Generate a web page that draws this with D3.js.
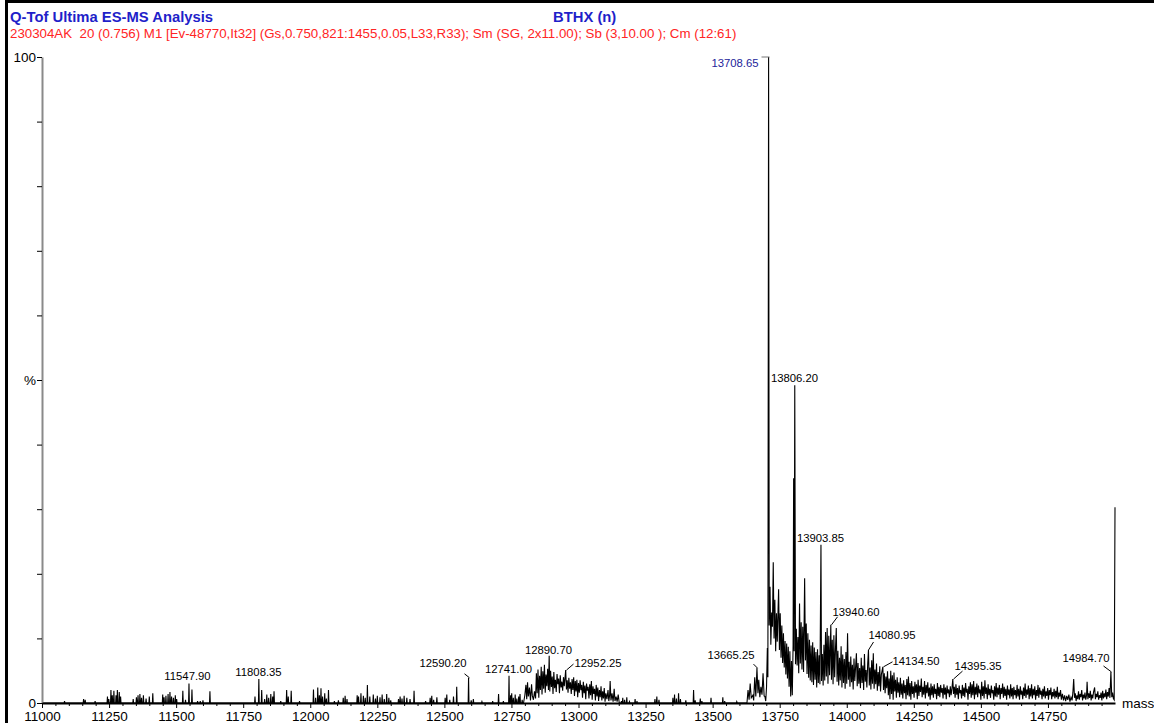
<!DOCTYPE html>
<html>
<head>
<meta charset="utf-8">
<script src="https://cdn.jsdelivr.net/npm/d3@7"></script>
<style>
  html, body { margin: 0; padding: 0; background: #fff; }
  svg { display: block; font-family: Arial, "Liberation Sans", sans-serif; }
  .pre { white-space: pre; }
</style>
</head>
<body>
<svg id="chart" width="1154" height="723"></svg>
<script>
// ---- Spectrum data (mass, relative intensity %) ----

// Isolated low-level peaks drawn as narrow sticks
const sticks = [
  [11084, 0.3], [11155, 0.6], [11161, 0.5], [11198, 0.3],
  [11244, 1.0], [11249, 0.6], [11257, 2.0], [11262, 1.2], [11268, 1.9], [11276, 1.2], [11281, 2.0], [11288, 1.7], [11293, 1.0],
  [11340, 0.6], [11352, 0.9], [11358, 1.2], [11365, 1.4], [11371, 0.8], [11378, 1.2], [11388, 0.7], [11400, 1.0], [11413, 1.5],
  [11450, 1.3], [11455, 0.9], [11462, 1.1], [11470, 1.4], [11477, 1.7], [11483, 1.0], [11490, 0.8], [11497, 1.2], [11502, 0.6],
  [11525, 1.9], [11535, 0.5], [11547.90, 3.0], [11559, 2.1], [11580, 0.3], [11590, 0.3], [11600, 0.4], [11626, 1.8],
  [11794, 1.0], [11808.35, 3.7], [11819, 2.0], [11830, 0.6], [11838, 1.3], [11845, 0.8], [11853, 1.4], [11860, 1.0], [11865, 1.8],
  [11890, 0.3], [11912, 2.0], [11918, 1.0], [11929, 1.9], [11960, 0.3],
  [12012, 2.1], [12020, 0.8], [12028, 2.4], [12034, 1.2], [12040, 2.3], [12046, 1.0], [12054, 1.5], [12060, 0.7], [12068, 2.0],
  [12090, 0.3], [12105, 0.4], [12123, 0.8], [12130, 1.1], [12137, 0.6],
  [12175, 1.2], [12180, 1.0], [12189, 1.5], [12198, 1.1], [12205, 0.8], [12213, 2.8], [12222, 1.0], [12235, 1.3], [12243, 0.7],
  [12250, 1.1], [12260, 0.9], [12268, 1.3], [12276, 0.6], [12285, 1.4], [12293, 0.8], [12300, 0.4],
  [12329, 0.6], [12335, 1.0], [12342, 0.7], [12350, 1.1], [12360, 0.8], [12372, 0.6], [12387, 1.9],
  [12430, 0.3], [12447, 0.8], [12453, 1.1], [12460, 0.5], [12472, 0.9],
  [12503, 0.8], [12509, 1.3], [12520, 0.5], [12534, 1.0], [12546, 2.5],
  [12590.20, 3.9], [12600, 0.4], [12608, 0.6], [12640, 0.2], [12680, 0.3], [12702, 1.4], [12720, 0.3],
  [12741.00, 4.2], [12747, 1.2], [12751, 1.5], [12757, 0.8], [12764, 1.3], [12770, 0.7], [12777, 1.0], [12782, 1.4], [12790, 0.5],
  [13160, 0.3], [13165, 0.8], [13172, 0.5], [13180, 0.9], [13190, 0.2], [13211, 0.6], [13218, 0.3],
  [13285, 0.6], [13292, 1.0], [13300, 0.5],
  [13352, 0.8], [13358, 1.3], [13365, 0.7], [13373, 1.5], [13380, 0.6],
  [13400, 0.4], [13429, 2.0], [13435, 0.4], [13454, 0.7], [13460, 0.3], [13494, 0.8], [13538, 0.9], [13545, 0.3], [13590, 0.2]
];

// Unresolved envelope around 12.9 kDa
const envelopeLow = [
  [12795, 0], [12800, 1.2], [12804, 2.8], [12807, 0.6], [12810, 3.2], [12813, 1.0], [12817, 2.4], [12821, 0.4], [12825, 2.9],
  [12828, 1.1], [12832, 0.5], [12836, 1.8], [12840, 0.7], [12843, 4.6], [12846, 1.5], [12849, 5.2], [12852, 0.8], [12855, 4.2],
  [12858, 2.0], [12861, 5.6], [12864, 1.3], [12867, 4.9], [12870, 2.2], [12873, 5.9], [12876, 1.6], [12879, 4.4], [12882, 2.6],
  [12885, 5.3], [12888, 2.0], [12890.70, 7.3], [12893, 1.8], [12896, 5.0], [12899, 2.5], [12902, 4.1], [12905, 1.4], [12908, 4.8],
  [12911, 2.3], [12914, 3.6], [12917, 1.7], [12920, 4.5], [12923, 2.9], [12926, 3.8], [12929, 1.5], [12932, 4.3], [12935, 2.4],
  [12938, 3.3], [12941, 1.9], [12944, 4.0], [12947, 2.6], [12952.25, 5.1], [12955, 2.1], [12958, 3.5], [12961, 1.6], [12964, 3.9],
  [12967, 2.2], [12970, 3.2], [12973, 1.4], [12976, 3.7], [12979, 2.0], [12982, 4.0], [12985, 1.1], [12988, 3.4], [12991, 1.8],
  [12994, 3.6], [12997, 0.9], [13000, 3.1], [13003, 1.6], [13006, 3.5], [13009, 2.0], [13012, 2.8], [13015, 0.8], [13018, 3.3],
  [13021, 1.5], [13024, 2.7], [13027, 0.6], [13030, 3.0], [13033, 1.9], [13036, 2.5], [13039, 0.7], [13042, 2.9], [13045, 1.2],
  [13048, 3.4], [13051, 0.5], [13054, 2.6], [13057, 1.4], [13060, 2.2], [13063, 0.4], [13066, 2.8], [13069, 1.0], [13072, 2.4],
  [13075, 0.3], [13078, 2.0], [13081, 0.9], [13084, 2.6], [13087, 0.4], [13090, 1.8], [13093, 0.7], [13096, 2.3], [13099, 0.2],
  [13102, 1.5], [13106, 0.6], [13110, 2.0], [13113, 0.3], [13116, 1.2], [13118, 3.4], [13121, 0.4], [13125, 1.5], [13129, 0.2],
  [13133, 2.2], [13136, 0.3], [13140, 1.0], [13144, 0.2], [13148, 1.3], [13152, 0]
];

// Main protein envelope from 13.6 kDa to the end of the scan
const envelopeMain = [
  [13628, 0], [13632, 2.0], [13636, 0.5], [13640, 3.0], [13644, 0.8], [13650, 1.2], [13653, 0.4], [13657, 4.0], [13661, 1.0],
  [13665.25, 5.4], [13669, 1.5], [13672, 3.6], [13676, 0.9], [13680, 2.5], [13684, 1.3], [13688, 4.6], [13692, 1.1], [13695, 1.0],
  [13698, 0.3], [13701, 2.5], [13704, 8.5], [13706, 4.0], [13708.65, 100], [13711, 12.0], [13714, 18.0], [13717, 9.0],
  [13720, 14.0], [13723, 11.8], [13726, 21.8], [13729, 10.0], [13732, 16.0], [13735, 8.0], [13738, 13.9], [13741, 9.5],
  [13744, 14.5], [13746, 17.6], [13749, 8.2], [13752, 13.9], [13755, 7.0], [13758, 12.0], [13761, 6.2], [13764, 10.8],
  [13767, 5.5], [13770, 9.6], [13773, 4.4], [13776, 9.2], [13779, 3.8], [13782, 8.7], [13785, 2.5], [13788, 8.0], [13791, 1.0],
  [13794, 6.5], [13797, 1.2], [13800, 9.0], [13802, 34.8], [13804, 8.0], [13806.20, 49.2], [13809, 6.0], [13812, 11.5],
  [13815, 5.8], [13818, 10.2], [13821, 4.6], [13824, 15.4], [13827, 6.1], [13830, 12.5], [13833, 5.2], [13836, 11.8],
  [13839, 4.8], [13843, 19.3], [13846, 6.6], [13849, 12.3], [13852, 4.5], [13855, 10.8], [13858, 3.9], [13861, 9.8],
  [13864, 3.5], [13867, 8.9], [13870, 3.2], [13873, 9.4], [13876, 2.8], [13879, 8.6], [13882, 3.6], [13885, 7.9], [13888, 2.4],
  [13891, 8.3], [13894, 3.1], [13897, 7.4], [13900, 2.9], [13903.85, 24.5], [13906, 3.4], [13909, 7.6], [13912, 2.7],
  [13915, 9.0], [13918, 3.5], [13921, 11.0], [13924, 4.1], [13927, 11.6], [13930, 3.0], [13933, 10.4], [13936, 4.3],
  [13940.60, 12.1], [13943, 3.6], [13946, 9.8], [13949, 2.9], [13952, 10.5], [13955, 4.0], [13958, 8.4], [13961, 11.6],
  [13964, 3.3], [13967, 8.1], [13970, 2.7], [13973, 7.0], [13976, 3.5], [13979, 8.8], [13982, 2.4], [13985, 7.5], [13988, 3.1],
  [13991, 6.8], [13994, 2.2], [13997, 7.9], [14000, 3.0], [14003, 10.8], [14006, 3.6], [14009, 6.4], [14012, 2.5], [14015, 7.2],
  [14018, 3.2], [14021, 5.9], [14024, 2.1], [14027, 6.9], [14030, 3.4], [14033, 5.6], [14036, 7.7], [14039, 2.6], [14042, 6.2],
  [14045, 3.0], [14048, 5.4], [14051, 2.3], [14054, 7.0], [14057, 3.1], [14060, 5.8], [14063, 2.0], [14066, 7.6], [14069, 3.3],
  [14072, 5.1], [14075, 2.4], [14078, 6.0], [14080.95, 8.2], [14084, 2.7], [14087, 5.5], [14090, 2.1], [14093, 6.6], [14096, 3.0],
  [14099, 7.7], [14102, 2.2], [14105, 5.2], [14108, 2.9], [14111, 6.1], [14114, 1.9], [14117, 4.8], [14120, 2.6], [14123, 5.7],
  [14126, 1.8], [14129, 4.4], [14134.50, 5.6], [14137, 2.0], [14140, 4.6], [14143, 1.5], [14146, 4.1], [14149, 2.3], [14152, 4.9],
  [14155, 1.2], [14158, 3.8], [14161, 0.6], [14164, 5.0], [14167, 1.4], [14170, 4.3], [14173, 0.5], [14176, 4.7], [14179, 1.8],
  [14182, 3.6], [14185, 0.8], [14188, 4.0], [14191, 1.6], [14194, 3.2], [14197, 0.9], [14200, 3.9], [14203, 1.3], [14206, 3.0],
  [14209, 0.7], [14212, 3.5], [14215, 1.5], [14218, 2.8], [14221, 0.6], [14224, 3.7], [14227, 1.2], [14230, 4.1], [14233, 1.0],
  [14236, 3.1], [14239, 0.5], [14242, 3.4], [14245, 1.4], [14248, 2.6], [14251, 0.8], [14254, 3.3], [14257, 1.6], [14260, 2.9],
  [14263, 0.6], [14266, 3.6], [14269, 1.1], [14272, 2.7], [14275, 1.7], [14278, 3.8], [14281, 0.9], [14284, 2.5], [14287, 1.3],
  [14290, 3.4], [14293, 0.7], [14296, 2.8], [14299, 1.5], [14302, 3.2], [14305, 1.0], [14308, 2.4], [14311, 0.5], [14314, 3.0],
  [14317, 1.2], [14320, 2.6], [14323, 0.8], [14326, 2.9], [14329, 1.4], [14332, 2.2], [14335, 0.6], [14338, 3.1], [14341, 1.1],
  [14344, 2.5], [14347, 0.9], [14350, 2.8], [14353, 1.6], [14356, 2.3], [14359, 0.7], [14362, 2.9], [14365, 1.3], [14368, 2.4],
  [14371, 0.6], [14374, 2.7], [14377, 1.5], [14380, 2.1], [14383, 0.9], [14386, 2.6], [14389, 1.2], [14392, 2.2], [14395.35, 3.7],
  [14398, 1.4], [14401, 2.5], [14404, 0.8], [14407, 2.9], [14410, 1.3], [14413, 2.3], [14416, 0.6], [14419, 2.7], [14422, 1.5],
  [14425, 2.0], [14428, 0.7], [14431, 2.8], [14434, 1.1], [14437, 2.4], [14440, 0.9], [14443, 3.1], [14446, 1.6], [14449, 2.2],
  [14452, 0.5], [14455, 2.6], [14458, 1.4], [14461, 3.2], [14464, 0.8], [14467, 2.9], [14470, 1.2], [14473, 3.4], [14476, 0.6],
  [14479, 2.5], [14482, 1.3], [14485, 3.0], [14488, 0.9], [14491, 2.7], [14494, 1.5], [14497, 2.1], [14500, 0.5], [14503, 3.3],
  [14506, 1.1], [14509, 2.6], [14512, 0.7], [14515, 3.5], [14518, 1.4], [14521, 2.4], [14524, 0.6], [14527, 2.9], [14530, 1.2],
  [14533, 2.2], [14536, 0.8], [14539, 2.7], [14542, 1.5], [14545, 2.0], [14548, 0.5], [14551, 2.6], [14554, 1.0], [14557, 3.1],
  [14560, 0.9], [14563, 2.4], [14566, 1.3], [14569, 2.8], [14572, 0.6], [14575, 2.3], [14578, 1.4], [14581, 3.0], [14584, 0.8],
  [14587, 2.5], [14590, 1.1], [14593, 2.2], [14596, 0.5], [14599, 2.7], [14602, 1.2], [14605, 2.1], [14608, 0.7], [14611, 2.9],
  [14614, 1.0], [14617, 2.3], [14620, 0.6], [14623, 2.5], [14626, 1.2], [14629, 2.0], [14632, 0.7], [14635, 2.8], [14638, 1.0],
  [14641, 2.2], [14644, 0.5], [14647, 2.6], [14650, 1.3], [14653, 1.9], [14656, 0.6], [14659, 2.4], [14662, 1.1], [14665, 3.0],
  [14668, 0.8], [14671, 2.1], [14674, 1.3], [14677, 2.7], [14680, 0.6], [14683, 2.3], [14686, 1.0], [14689, 2.9], [14692, 0.7],
  [14695, 2.2], [14698, 1.2], [14701, 2.6], [14704, 0.5], [14707, 2.0], [14710, 1.1], [14713, 2.8], [14716, 0.8], [14719, 2.4],
  [14722, 1.3], [14725, 1.9], [14728, 0.6], [14731, 2.2], [14734, 1.0], [14737, 2.6], [14740, 0.7], [14743, 1.8], [14746, 1.1],
  [14749, 2.3], [14752, 0.5], [14755, 2.0], [14758, 1.2], [14761, 2.4], [14764, 0.6], [14767, 1.7], [14770, 1.0], [14773, 2.2],
  [14776, 0.7], [14779, 1.9], [14782, 0.9], [14785, 2.5], [14788, 0.6], [14791, 1.6], [14794, 1.0], [14797, 2.0], [14800, 0.5],
  [14804, 1.4], [14808, 0.4], [14812, 1.2], [14816, 0.3], [14820, 1.1], [14824, 0.5], [14828, 1.3], [14832, 0.2], [14836, 0.9],
  [14840, 0.4], [14843, 1.6], [14846, 3.7], [14849, 0.8], [14852, 1.5], [14855, 0.3], [14858, 1.2], [14861, 0.6], [14864, 1.8],
  [14867, 0.5], [14870, 1.4], [14873, 0.9], [14876, 2.0], [14879, 0.4], [14882, 1.3], [14885, 0.7], [14888, 1.6], [14891, 0.5],
  [14894, 1.2], [14896, 3.3], [14899, 0.6], [14902, 1.5], [14905, 0.8], [14908, 1.9], [14911, 0.4], [14914, 1.3], [14917, 0.7],
  [14920, 1.7], [14924, 2.4], [14927, 0.6], [14930, 1.4], [14933, 0.9], [14936, 1.8], [14939, 0.5], [14942, 1.2], [14945, 0.8],
  [14948, 1.6], [14951, 0.4], [14954, 1.9], [14957, 0.7], [14960, 1.5], [14963, 0.9], [14966, 2.1], [14969, 0.6], [14972, 1.7],
  [14975, 1.0], [14978, 2.3], [14981, 0.8], [14984.70, 4.8], [14988, 0.9], [14991, 1.6], [14994, 0.7], [14997, 0.5], [15000, 30.3]
];

// Labelled peaks: [mass, intensity %]
const labelledPeaks = [
  [11547.90, 3.0], [11808.35, 3.7], [12590.20, 3.9], [12741.00, 4.2], [12890.70, 7.3], [12952.25, 5.1],
  [13665.25, 5.4], [13708.65, 100], [13806.20, 49.2], [13903.85, 24.5], [13940.60, 12.1], [14080.95, 8.2],
  [14134.50, 5.6], [14395.35, 3.7], [14984.70, 4.8]
];

// Axis ticks
const xMajorTicks = d3.range(11000, 14751, 250);
const xMinorTicks = d3.range(11000, 15001, 50).filter(v => v % 250 !== 0);
const yTicks = d3.range(0, 101, 10);
const yTickLabels = { 0: "0", 50: "%", 100: "100" };

// Header text
const titleText = "Q-Tof Ultima ES-MS Analysis";
const sampleText = "BTHX (n)";
const acquisitionText = "230304AK  20 (0.756) M1 [Ev-48770,It32] (Gs,0.750,821:1455,0.05,L33,R33); Sm (SG, 2x11.00); Sb (3,10.00 ); Cm (12:61)";

// ---- Layout ----
const svg = d3.select("#chart");
const x = d3.scaleLinear().domain([11000, 15000]).range([42, 1115]);
const y = d3.scaleLinear().domain([0, 100]).range([703, 57]);

// Outer frame (only top and left edges fall inside the window)
svg.append("rect")
  .attr("x", 6.5).attr("y", 1.5)
  .attr("width", 1400).attr("height", 900)
  .attr("fill", "none").attr("stroke", "#000").attr("stroke-width", 3);

// Header
svg.append("text").attr("x", 10).attr("y", 22)
  .attr("font-size", 14.8).attr("font-weight", "bold").attr("fill", "#1f1fc9")
  .text(titleText);
svg.append("text").attr("x", 553).attr("y", 22)
  .attr("font-size", 14.8).attr("font-weight", "bold").attr("fill", "#1f1fc9")
  .text(sampleText);
svg.append("text").attr("class", "pre").attr("x", 10).attr("y", 38)
  .attr("font-size", 13.3).attr("fill", "#ff2424")
  .text(acquisitionText);

// Build the continuous trace: sticks become narrow baseline-apex-baseline peaks
const stickTrace = sticks.flatMap(([m, h]) => [[m - 1.5, 0], [m, h], [m + 1.5, 0]]);
const trace = [[11000, 0]]
  .concat(stickTrace, envelopeLow, envelopeMain)
  .sort((a, b) => a[0] - b[0]);

const line = d3.line().x(d => x(d[0])).y(d => y(d[1]));

svg.append("path")
  .datum(trace)
  .attr("d", line)
  .attr("fill", "none")
  .attr("stroke", "#000")
  .attr("stroke-width", 1.1)
  .attr("stroke-linejoin", "miter");

// Y axis
const yAxis = d3.axisLeft(y)
  .tickValues(yTicks)
  .tickSize(5)
  .tickSizeOuter(0)
  .tickPadding(1)
  .tickFormat(d => yTickLabels[d] || "");
const gy = svg.append("g").attr("transform", "translate(42,0)").call(yAxis);
gy.select(".domain").attr("stroke", "#8a8a8a").attr("stroke-width", 2);
gy.selectAll(".tick line").attr("stroke", "#000");
gy.selectAll(".tick text").attr("font-size", 13.5).attr("fill", "#000")
  .attr("font-family", "Arial, 'Liberation Sans', sans-serif");

// X axis: minor ticks, then major ticks with labels
const gxMinor = svg.append("g").attr("transform", "translate(0,703)")
  .call(d3.axisBottom(x).tickValues(xMinorTicks).tickSize(3).tickSizeOuter(0).tickFormat(""));
gxMinor.select(".domain").remove();
gxMinor.selectAll(".tick line").attr("stroke", "#000");

const gx = svg.append("g").attr("transform", "translate(0,703)")
  .call(d3.axisBottom(x).tickValues(xMajorTicks).tickSize(5).tickSizeOuter(0).tickPadding(3).tickFormat(d3.format("d")));
gx.select(".domain").attr("stroke", "#000").attr("stroke-width", 2);
gx.selectAll(".tick line").attr("stroke", "#000");
gx.selectAll(".tick text").attr("font-size", 13.5).attr("fill", "#000")
  .attr("font-family", "Arial, 'Liberation Sans', sans-serif");

svg.append("text").attr("x", 1122).attr("y", 708)
  .attr("font-size", 13.5).attr("fill", "#000").text("mass");

// Peak labels: placement of each label relative to its apex
// dx, dy: text anchor offset from apex; lead: leader segment end relative to apex (or null)
const placement = {
  "11547.90": { anchor: "middle", dx: -2, dy: -4, lead: null },
  "11808.35": { anchor: "middle", dx: -1, dy: -3, lead: null },
  "12590.20": { anchor: "end", dx: -3, dy: -11, lead: [-5, -4] },
  "12741.00": { anchor: "middle", dx: -1, dy: -3, lead: null },
  "12890.70": { anchor: "middle", dx: -1, dy: -2, lead: null },
  "12952.25": { anchor: "start", dx: 8, dy: -3, lead: [7, -6] },
  "13665.25": { anchor: "end", dx: -3, dy: -9, lead: [-4, -4] },
  "13708.65": { anchor: "end", dx: -11, dy: 10, lead: [-8, 0] },
  "13806.20": { anchor: "middle", dx: -1, dy: -3, lead: null },
  "13903.85": { anchor: "middle", dx: -1, dy: -3, lead: null },
  "13940.60": { anchor: "start", dx: 1, dy: -9, lead: [6, -8] },
  "14080.95": { anchor: "start", dx: 0, dy: -11, lead: [5, -8] },
  "14134.50": { anchor: "start", dx: 9, dy: -2, lead: [9, -5] },
  "14395.35": { anchor: "start", dx: 1, dy: -9, lead: [9, -8] },
  "14984.70": { anchor: "end", dx: -2, dy: -10, lead: [-8, -6] }
};

const labels = svg.append("g").attr("font-size", 11.3);
labelledPeaks.forEach(([m, h]) => {
  const key = m.toFixed(2);
  const p = placement[key];
  const px = Math.round(x(m)) + 0.5, py = y(h);
  if (p.lead) {
    labels.append("line")
      .attr("x1", px).attr("y1", py)
      .attr("x2", px + p.lead[0]).attr("y2", py + p.lead[1])
      .attr("stroke", h === 100 ? "#777" : "#000").attr("stroke-width", 1);
  }
  labels.append("text")
    .attr("x", px + p.dx).attr("y", py + p.dy)
    .attr("text-anchor", p.anchor)
    .attr("fill", h === 100 ? "#23239a" : "#000")
    .text(key);
});
</script>
</body>
</html>
